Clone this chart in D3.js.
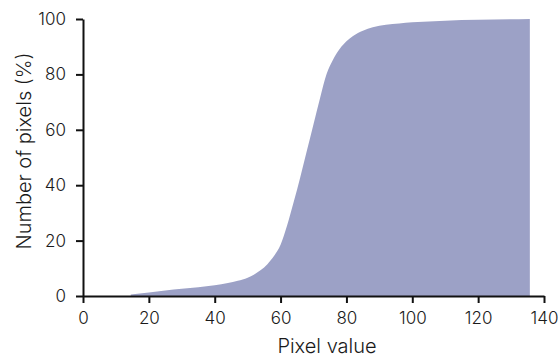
<!DOCTYPE html>
<html>
<head>
<meta charset="utf-8">
<script src="https://cdn.jsdelivr.net/npm/d3@7"></script>
<style>
  html, body { margin: 0; padding: 0; background: #fff; }
  svg text { font-family: Inter, Roboto, sans-serif; fill: #1a1a1a; }
</style>
</head>
<body>
<svg id="chart" width="560" height="358"></svg>
<script>
// Cumulative distribution of pixel values
const pixelValues = [14.5, 20, 25, 30, 35, 40, 44, 47, 50, 52, 54, 56, 58, 60, 62, 64, 66, 68, 70, 72, 74, 76, 78, 80, 82, 85, 88, 92, 96, 100, 110, 120, 135.7];
const cumulativePct = [0.5, 1.3, 2.0, 2.6, 3.2, 3.9, 4.7, 5.5, 6.6, 7.8, 9.4, 11.5, 14.4, 18.5, 25.5, 34, 43, 52.5, 62, 71.5, 80.2, 85.5, 89.3, 92.0, 93.9, 95.8, 97.0, 97.9, 98.4, 98.8, 99.4, 99.7, 100];
const xTicks = [0, 20, 40, 60, 80, 100, 120, 140];
const yTicks = [0, 20, 40, 60, 80, 100];

const data = pixelValues.map((v, i) => ({ v, p: cumulativePct[i] }));

const svg = d3.select("#chart");
const margin = { left: 83, right: 16, top: 19, bottom: 62 };
const W = 560, H = 358;

const x = d3.scaleLinear().domain([0, 140]).range([margin.left, W - margin.right]);
const y = d3.scaleLinear().domain([0, 100]).range([H - margin.bottom, margin.top]);

const area = d3.area()
  .x(d => x(d.v))
  .y0(y(0))
  .y1(d => y(d.p))
  .curve(d3.curveMonotoneX);

svg.append("path")
  .datum(data)
  .attr("d", area)
  .attr("fill", "#9ca1c6");

const xAxis = svg.append("g")
  .attr("transform", `translate(0,${y(0)})`)
  .call(d3.axisBottom(x).tickValues(xTicks).tickSize(7).tickSizeOuter(0).tickPadding(9));

const yAxis = svg.append("g")
  .attr("transform", `translate(${x(0)},0)`)
  .call(d3.axisLeft(y).tickValues(yTicks).tickSize(7).tickSizeOuter(0).tickPadding(10));

[xAxis, yAxis].forEach(g => {
  g.selectAll("path.domain").attr("stroke", "#111").attr("stroke-width", 2);
  g.selectAll(".tick line").attr("stroke", "#111").attr("stroke-width", 2);
  g.selectAll(".tick text")
    .attr("font-family", "Inter, Roboto, sans-serif")
    .attr("font-size", 17)
    .attr("font-weight", 300)
    .attr("fill", "#1a1a1a");
});

svg.append("text")
  .attr("x", 327)
  .attr("y", 353)
  .attr("text-anchor", "middle")
  .attr("font-size", 20)
  .attr("font-weight", 300)
  .text("Pixel value");

svg.append("text")
  .attr("transform", `translate(31,151) rotate(-90)`)
  .attr("text-anchor", "middle")
  .attr("font-size", 20)
  .attr("font-weight", 300)
  .text("Number of pixels (%)");
</script>
</body>
</html>
